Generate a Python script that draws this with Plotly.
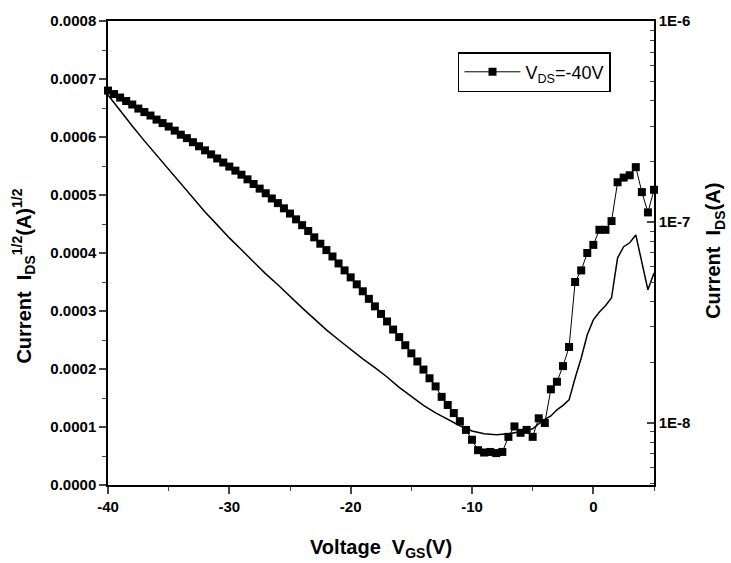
import plotly.graph_objects as go

# Square series: sqrt(I_DS) vs V_GS (left axis)
vgs_sq = [-40.0, -39.5, -39.0, -38.5, -38.0, -37.5, -37.0, -36.5, -36.0, -35.5,
          -35.0, -34.5, -34.0, -33.5, -33.0, -32.5, -32.0, -31.5, -31.0, -30.5,
          -30.0, -29.5, -29.0, -28.5, -28.0, -27.5, -27.0, -26.5, -26.0, -25.5,
          -25.0, -24.5, -24.0, -23.5, -23.0, -22.5, -22.0, -21.5, -21.0, -20.5,
          -20.0, -19.5, -19.0, -18.5, -18.0, -17.5, -17.0, -16.5, -16.0, -15.5,
          -15.0, -14.5, -14.0, -13.5, -13.0, -12.5, -12.0, -11.5, -11.0, -10.5,
          -10.0, -9.5, -9.0, -8.5, -8.0, -7.5, -7.0, -6.5, -6.0, -5.5,
          -5.0, -4.5, -4.0, -3.5, -3.0, -2.5, -2.0, -1.5, -1.0, -0.5,
          0.0, 0.5, 1.0, 1.5, 2.0, 2.5, 3.0, 3.5, 4.0, 4.5, 5.0]
sqrt_ids = [6.80e-4, 6.74e-4, 6.68e-4, 6.62e-4, 6.56e-4, 6.49e-4, 6.43e-4, 6.37e-4, 6.30e-4, 6.24e-4,
            6.18e-4, 6.11e-4, 6.04e-4, 5.98e-4, 5.91e-4, 5.84e-4, 5.77e-4, 5.70e-4, 5.63e-4, 5.56e-4,
            5.49e-4, 5.42e-4, 5.35e-4, 5.27e-4, 5.19e-4, 5.11e-4, 5.03e-4, 4.94e-4, 4.86e-4, 4.77e-4,
            4.68e-4, 4.58e-4, 4.48e-4, 4.38e-4, 4.27e-4, 4.16e-4, 4.05e-4, 3.94e-4, 3.82e-4, 3.70e-4,
            3.58e-4, 3.46e-4, 3.34e-4, 3.21e-4, 3.08e-4, 2.95e-4, 2.82e-4, 2.68e-4, 2.55e-4, 2.41e-4,
            2.27e-4, 2.13e-4, 1.99e-4, 1.84e-4, 1.70e-4, 1.52e-4, 1.38e-4, 1.24e-4, 1.10e-4, 0.95e-4,
            0.78e-4, 0.60e-4, 0.56e-4, 0.57e-4, 0.55e-4, 0.57e-4, 0.83e-4, 1.01e-4, 0.90e-4, 0.95e-4,
            0.83e-4, 1.15e-4, 1.07e-4, 1.65e-4, 1.78e-4, 2.05e-4, 2.38e-4, 3.50e-4, 3.70e-4, 4.00e-4,
            4.14e-4, 4.40e-4, 4.40e-4, 4.55e-4, 5.22e-4, 5.30e-4, 5.34e-4, 5.48e-4, 5.05e-4, 4.70e-4, 5.09e-4]

# Line series: I_DS vs V_GS (right log axis)
vgs_line = [-40, -39, -38, -37, -36, -35, -34, -33, -32, -31, -30, -29, -28, -27, -26,
            -25, -24, -23, -22, -21, -20, -19, -18, -17, -16, -15, -14, -13, -12, -11,
            -10, -9, -8, -7, -6, -5, -4.5, -4, -3.5, -3, -2.5, -2, -1.5, -1, -0.5,
            0, 0.5, 1, 1.5, 2, 2.5, 3, 3.5, 4, 4.5, 5]
ids = [4.28e-7, 3.56e-7, 3.00e-7, 2.53e-7, 2.15e-7, 1.81e-7, 1.55e-7, 1.32e-7, 1.12e-7, 9.66e-8,
       8.32e-8, 7.26e-8, 6.32e-8, 5.51e-8, 4.86e-8, 4.24e-8, 3.73e-8, 3.29e-8, 2.90e-8, 2.59e-8,
       2.31e-8, 2.08e-8, 1.88e-8, 1.69e-8, 1.50e-8, 1.35e-8, 1.22e-8, 1.12e-8, 1.04e-8, 9.66e-9,
       9.10e-9, 8.81e-9, 8.71e-9, 8.81e-9, 9.02e-9, 9.33e-9, 9.88e-9, 1.04e-8, 1.08e-8, 1.16e-8,
       1.22e-8, 1.30e-8, 1.67e-8, 2.10e-8, 2.74e-8, 3.25e-8, 3.56e-8, 3.82e-8, 4.19e-8, 6.62e-8,
       7.52e-8, 7.87e-8, 8.61e-8, 6.25e-8, 4.59e-8, 5.57e-8]

left_ticks = [0.0, 0.0001, 0.0002, 0.0003, 0.0004, 0.0005, 0.0006, 0.0007, 0.0008]
left_labels = ["0.0000", "0.0001", "0.0002", "0.0003", "0.0004", "0.0005", "0.0006", "0.0007", "0.0008"]
right_ticks = [1e-8, 1e-7, 1e-6]
right_labels = ["1E-8", "1E-7", "1E-6"]
right_minor = [5e-9, 6e-9, 7e-9, 8e-9, 9e-9,
               2e-8, 3e-8, 4e-8, 5e-8, 6e-8, 7e-8, 8e-8, 9e-8,
               2e-7, 3e-7, 4e-7, 5e-7, 6e-7, 7e-7, 8e-7, 9e-7]
x_ticks = [-40, -30, -20, -10, 0]
x_labels = ["-40", "-30", "-20", "-10", "0"]

FONT = "Liberation Sans, Arial, sans-serif"

fig = go.Figure()
fig.add_trace(go.Scatter(
    x=vgs_sq, y=sqrt_ids, mode="lines+markers", name="V<sub>DS</sub>=-40V",
    line=dict(color="black", width=1), cliponaxis=False,
    marker=dict(symbol="square", size=8, color="black", line=dict(width=0)),
    yaxis="y"))
fig.add_trace(go.Scatter(
    x=vgs_line, y=ids, mode="lines", name="I_DS", showlegend=False,
    line=dict(color="black", width=1.5), yaxis="y2"))

fig.update_layout(
    width=731, height=563,
    margin=dict(l=108, r=77, t=21, b=78, autoexpand=False),
    paper_bgcolor="white", plot_bgcolor="white",
    font=dict(family=FONT, color="black"),
    showlegend=True,
    legend=dict(x=0.641, y=0.933, xanchor="left", yanchor="top",
                bgcolor="white", bordercolor="black", borderwidth=1.5,
                font=dict(size=18, family=FONT, color="black"),
                itemwidth=56, tracegroupgap=0),
    xaxis=dict(range=[-40, 5], tickvals=x_ticks, ticktext=x_labels,
               ticks="outside", ticklen=7, tickwidth=1.5, automargin=False,
               minor=dict(dtick=5, ticks="outside", ticklen=4, tickwidth=1.2),
               showline=True, linecolor="black", linewidth=1.5, mirror=True,
               showgrid=False, zeroline=False,
               tickfont=dict(size=15, family=FONT, weight="bold")),
    yaxis=dict(range=[0, 0.0008], tickvals=left_ticks, ticktext=left_labels,
               ticks="outside", ticklen=7, tickwidth=1.5, automargin=False,
               minor=dict(dtick=0.00005, tick0=0, ticks="outside", ticklen=4, tickwidth=1.2),
               showline=True, linecolor="black", linewidth=1.5,
               showgrid=False, zeroline=False,
               tickfont=dict(size=15, family=FONT, weight="bold")),
    yaxis2=dict(overlaying="y", side="right", type="log", range=[-8.31, -6],
                tickvals=right_ticks, ticktext=right_labels,
                ticks="inside", ticklen=7, tickwidth=1.5, automargin=False,
                minor=dict(tickvals=right_minor, ticks="inside", ticklen=4, tickwidth=1.2),
                showline=True, linecolor="black", linewidth=1.5,
                showgrid=False, zeroline=False,
                tickfont=dict(size=15, family=FONT, weight="bold")),
    annotations=[
        dict(text="Current&nbsp; I<sub>DS</sub><sup>1/2</sup>(A)<sup>1/2</sup>",
             xref="paper", yref="paper", x=-0.155, y=0.45,
             xanchor="center", yanchor="middle", textangle=-90, showarrow=False,
             font=dict(size=20, family=FONT, weight="bold", color="black")),
        dict(text="Current&nbsp; I<sub>DS</sub>(A)",
             xref="paper", yref="paper", x=1.112, y=0.505,
             xanchor="center", yanchor="middle", textangle=-90, showarrow=False,
             font=dict(size=20, family=FONT, weight="bold", color="black")),
        dict(text="Voltage  V<sub>GS</sub>(V)",
             xref="paper", yref="paper", x=0.5, y=-0.136,
             xanchor="center", yanchor="middle", showarrow=False,
             font=dict(size=20, family=FONT, weight="bold", color="black")),
    ],
)

fig.write_html("out.html")
